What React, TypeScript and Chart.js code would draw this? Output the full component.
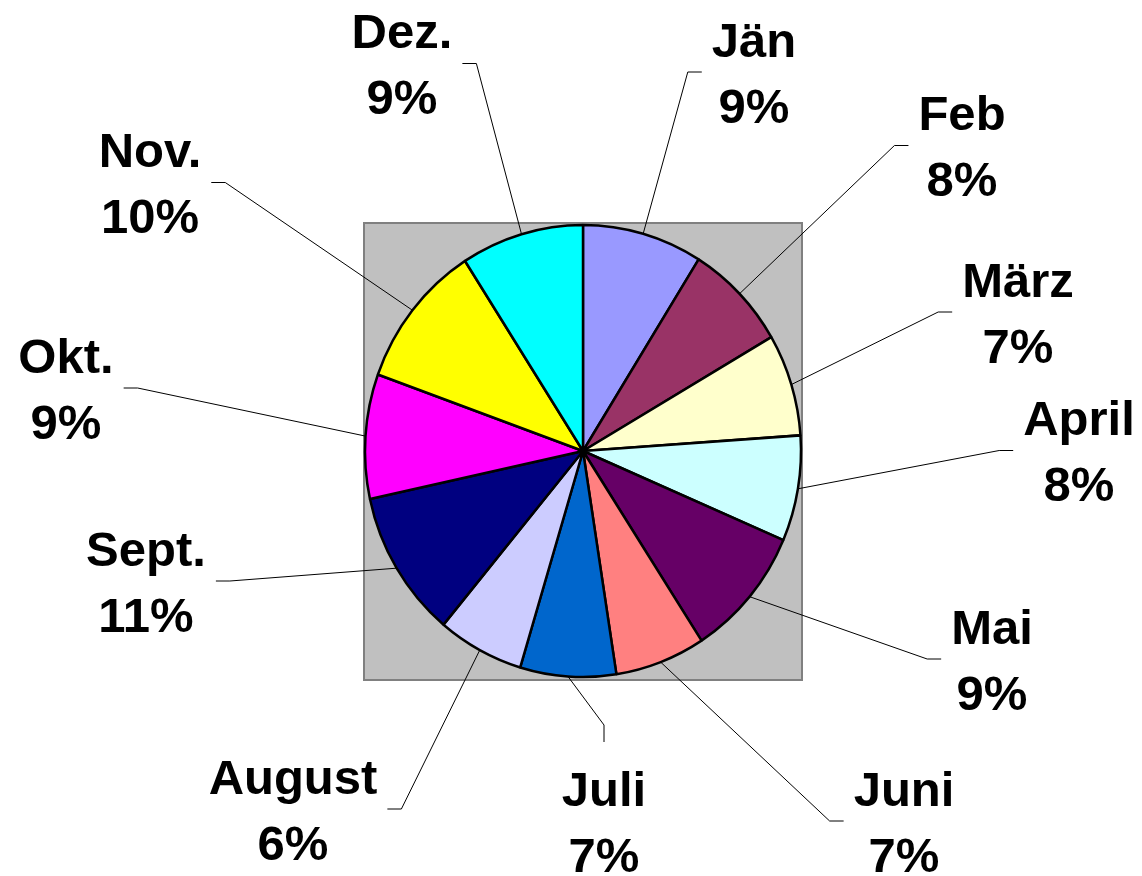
import React, { useEffect, useRef } from "react";
import { Chart, registerables } from "chart.js";

Chart.register(...registerables);

const months = ["Jän", "Feb", "März", "April", "Mai", "Juni", "Juli", "August", "Sept.", "Okt.", "Nov.", "Dez."];
const values = [8.9, 7.7, 7.3, 7.55, 9.4, 6.7, 7.1, 6.4, 10.55, 8.9, 10.4, 9.1];
const sliceColors = [
  "#9999FF", "#993366", "#FFFFCC", "#CCFFFF", "#660066", "#FF8080",
  "#0066CC", "#CCCCFF", "#000080", "#FF00FF", "#FFFF00", "#00FFFF",
];
// label box centres relative to the pie centre (layout only)
const labelOffsets: [number, number][] = [
  [171, -379], [379, -305.5], [435, -139], [496, -0.5], [409, 208], [321, 370],
  [21, 370], [-290, 358], [-437, 130], [-517, -63], [-433, -268.5], [-181, -387.5],
];

const FONT = "bold 49px 'Liberation Sans', Arial, Helvetica, sans-serif";
const KY = 226 / 218;

const excelPie = {
  id: "excelPie",
  beforeDatasetsDraw(chart: any) {
    const meta = chart.getDatasetMeta(0);
    const a0 = meta.data[0];
    const cx = a0.x, cy = a0.y, r = a0.outerRadius;
    const ctx = chart.ctx as CanvasRenderingContext2D;
    ctx.save();
    const top = cy - r * KY - 2;
    const bottom = cy + r * KY + 3;
    const left = cx - r - 1;
    const right = cx + r + 1;
    ctx.fillStyle = "#C0C0C0";
    ctx.fillRect(left, top, right - left, bottom - top);
    ctx.strokeStyle = "#808080";
    ctx.lineWidth = 2;
    ctx.strokeRect(left, top, right - left, bottom - top);
    ctx.restore();
    ctx.save();
    ctx.translate(cx, cy);
    ctx.scale(1, KY);
    ctx.translate(-cx, -cy);
  },
  afterDatasetsDraw(chart: any) {
    const ctx = chart.ctx as CanvasRenderingContext2D;
    ctx.restore();
    const meta = chart.getDatasetMeta(0);
    const total = values.reduce((s, v) => s + v, 0);
    ctx.save();
    ctx.font = FONT;
    ctx.fillStyle = "#000";
    ctx.strokeStyle = "#000";
    ctx.lineWidth = 1;
    ctx.textAlign = "center";
    ctx.textBaseline = "alphabetic";
    meta.data.forEach((arc: any, i: number) => {
      const cx = arc.x, cy = arc.y, r = arc.outerRadius;
      const mid = (arc.startAngle + arc.endAngle) / 2;
      const sx = cx + r * Math.cos(mid);
      const sy = cy + r * KY * Math.sin(mid);
      const lx = cx + labelOffsets[i][0];
      const ly = cy + labelOffsets[i][1];
      const name = months[i];
      const pct = Math.round((values[i] / total) * 100) + "%";
      const w = Math.max(ctx.measureText(name).width, ctx.measureText(pct).width);
      const hw = w / 2 + 10;
      let ex: number, ey: number, bx: number, by: number;
      if (Math.abs(lx - sx) < hw) {
        ex = lx;
        if (ly > sy) {
          ey = ly - 79;
          by = ey - 17;
        } else {
          ey = ly + 79;
          by = ey + 17;
        }
        bx = lx;
      } else if (lx > sx) {
        ex = lx - hw;
        ey = ly;
        bx = ex - 14;
        by = ly;
      } else {
        ex = lx + hw;
        ey = ly;
        bx = ex + 14;
        by = ly;
      }
      ctx.beginPath();
      ctx.moveTo(sx, sy);
      ctx.lineTo(bx, by);
      ctx.lineTo(ex, ey);
      ctx.stroke();
      ctx.fillText(name, lx, ly - 15.5);
      ctx.fillText(pct, lx, ly + 50.5);
    });
    ctx.restore();
  },
};

export default function App() {
  const ref = useRef<HTMLCanvasElement | null>(null);
  useEffect(() => {
    if (!ref.current) return;
    const chart = new Chart(ref.current, {
      type: "pie",
      data: {
        labels: months,
        datasets: [
          {
            data: values,
            backgroundColor: sliceColors,
            borderColor: "#000000",
            borderWidth: 2.5,
          },
        ],
      },
      options: {
        animation: false,
        responsive: false,
        devicePixelRatio: 1,
        radius: 218,
        layout: { padding: { left: 24, right: 0, top: 26, bottom: 0 } },
        plugins: {
          legend: { display: false },
          tooltip: { enabled: false },
        },
      } as any,
      plugins: [excelPie],
    });
    return () => chart.destroy();
  }, []);
  return (
    <div style={{ position: "absolute", left: 0, top: 0, width: 1142, height: 876, background: "#fff" }}>
      <canvas ref={ref} width={1142} height={876} style={{ width: 1142, height: 876, display: "block" }} />
    </div>
  );
}
